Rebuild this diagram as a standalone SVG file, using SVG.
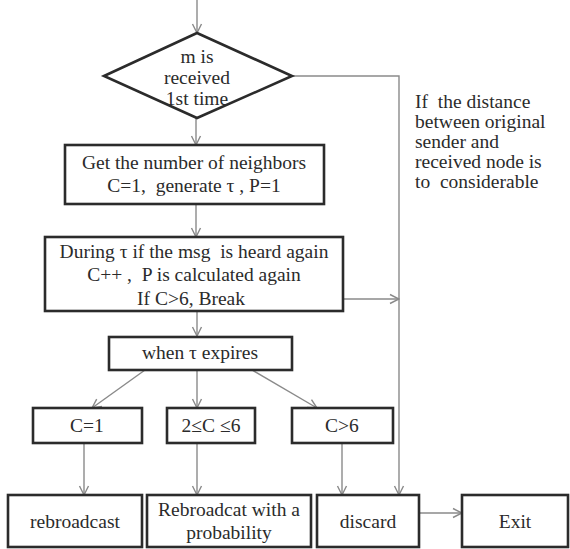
<svg xmlns="http://www.w3.org/2000/svg" width="570" height="549" viewBox="0 0 570 549">
<style>
  .box { fill: #ffffff; stroke: #2b2b2b; stroke-width: 2.6; }
  .t { font-family: "Liberation Serif", "Times New Roman", serif; font-size: 19.5px; fill: #2b2b2b; text-anchor: middle; white-space: pre; }
  .side { font-family: "Liberation Serif", "Times New Roman", serif; font-size: 19.5px; fill: #2b2b2b; white-space: pre; }
  .c { fill: none; stroke: #8a8a8a; stroke-width: 1.4; }
</style>
<defs>
  <marker id="arr" viewBox="0 0 12 12" refX="11" refY="6" markerWidth="12" markerHeight="12" markerUnits="userSpaceOnUse" orient="auto">
    <polyline points="2,1.5 11,6 2,10.5" fill="none" stroke="#8a8a8a" stroke-width="1.4"/>
  </marker>
</defs>
<rect width="570" height="549" fill="#ffffff"/>

<g id="connectors">
  <line class="c" x1="197" y1="0" x2="197" y2="33" marker-end="url(#arr)"/>
  <line class="c" x1="196" y1="118" x2="196" y2="145" marker-end="url(#arr)"/>
  <polyline class="c" points="292,76 399,76 399,495" marker-end="url(#arr)"/>
  <line class="c" x1="196" y1="204" x2="196" y2="237" marker-end="url(#arr)"/>
  <line class="c" x1="256" y1="299" x2="399" y2="299" marker-end="url(#arr)"/>
  <line class="c" x1="197" y1="311" x2="197" y2="336" marker-end="url(#arr)"/>
  <line class="c" x1="145" y1="370" x2="92" y2="408" marker-end="url(#arr)"/>
  <line class="c" x1="197" y1="370" x2="197" y2="408" marker-end="url(#arr)"/>
  <line class="c" x1="252" y1="370" x2="317" y2="408" marker-end="url(#arr)"/>
  <line class="c" x1="84" y1="443" x2="84" y2="495" marker-end="url(#arr)"/>
  <line class="c" x1="197" y1="443" x2="197" y2="495" marker-end="url(#arr)"/>
  <line class="c" x1="342" y1="443" x2="342" y2="495" marker-end="url(#arr)"/>
  <line class="c" x1="419" y1="513" x2="462" y2="513" marker-end="url(#arr)"/>
</g>

<g id="decision">
  <polygon class="box" points="104,76 197,33 292,76 197,118"/>
  <text class="t" x="197" y="63">m is</text>
  <text class="t" x="197" y="84">received</text>
  <text class="t" x="197" y="105">1st time</text>
</g>

<g id="note">
  <text class="side" x="415" y="108">If  the distance</text>
  <text class="side" x="415" y="128">between original</text>
  <text class="side" x="415" y="148">sender and</text>
  <text class="side" x="415" y="168">received node is</text>
  <text class="side" x="415" y="188">to  considerable</text>
</g>

<g id="get-neighbors">
  <rect class="box" x="65" y="145" width="259" height="59"/>
  <text class="t" x="194" y="169">Get the number of neighbors</text>
  <text class="t" x="194" y="192">C=1,  generate τ , P=1</text>
</g>

<g id="during-tau">
  <rect class="box" x="45" y="237" width="298" height="74"/>
  <text class="t" x="194" y="258">During τ if the msg  is heard again</text>
  <text class="t" x="194" y="281">C++ ,  P is calculated again</text>
  <text class="t" x="191" y="305">If C&gt;6, Break</text>
</g>

<g id="when-expires">
  <rect class="box" x="109" y="337" width="183" height="33"/>
  <text class="t" x="200" y="359">when τ expires</text>
</g>

<g id="c-eq-1">
  <rect class="box" x="33" y="408" width="109" height="35"/>
  <text class="t" x="87" y="432">C=1</text>
</g>

<g id="c-mid">
  <rect class="box" x="167" y="408" width="88" height="35"/>
  <text class="t" x="211" y="432">2≤C ≤6</text>
</g>

<g id="c-gt-6">
  <rect class="box" x="292" y="408" width="101" height="35"/>
  <text class="t" x="342" y="432">C&gt;6</text>
</g>

<g id="rebroadcast">
  <rect class="box" x="8" y="495" width="134" height="52"/>
  <text class="t" x="75" y="528">rebroadcast</text>
</g>

<g id="rebroadcast-prob">
  <rect class="box" x="147" y="495" width="164" height="52"/>
  <text class="t" x="229" y="516">Rebroadcat with a</text>
  <text class="t" x="229" y="539">probability</text>
</g>

<g id="discard">
  <rect class="box" x="317" y="495" width="102" height="52"/>
  <text class="t" x="368" y="528">discard</text>
</g>

<g id="exit">
  <rect class="box" x="462" y="495" width="106" height="52"/>
  <text class="t" x="515" y="528">Exit</text>
</g>
</svg>
